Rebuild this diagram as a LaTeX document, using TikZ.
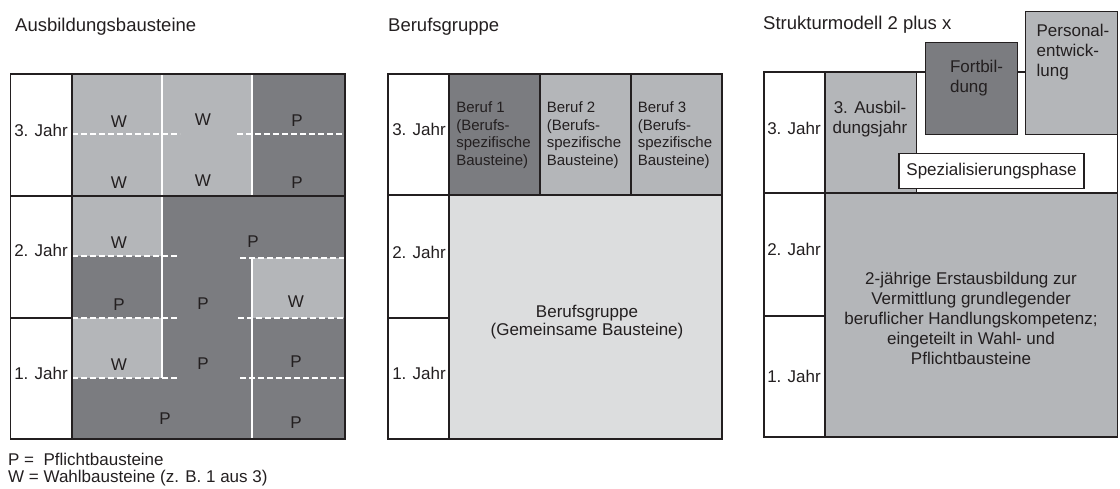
\documentclass[tikz,border=0pt]{standalone}
\usepackage{fontspec}
\setmainfont{Liberation Sans}
\usetikzlibrary{positioning}

\definecolor{pgray}{RGB}{123,124,128}
\definecolor{wgray}{RGB}{180,182,185}
\definecolor{ggray}{RGB}{220,221,222}
\definecolor{ink}{RGB}{35,31,32}

\begin{document}
\begin{tikzpicture}[x=1pt, y=-1pt,
    txt/.style={inner sep=0pt, text=ink, font=\fontsize{17}{20}\selectfont},
    title/.style={txt, anchor=base west, font=\fontsize{18.5}{22}\selectfont},
    jahr/.style={txt, anchor=east},
    bst/.style={txt},
    boxtxt/.style={txt, align=left, font=\fontsize{15}{17.5}\selectfont},
    frame/.style={draw=ink, line width=1.5pt},
    sep/.style={draw=white, line width=1.5pt},
    gap/.style={sep, dash pattern=on 6pt off 3pt}
]
\useasboundingbox (0,0) rectangle (1120,489);

% Ausbildungsbausteine
\node [title] (aus) at (15,31.5) {Ausbildungsbausteine};
\fill [pgray] (72,74) rectangle (345,439);
\fill [wgray] (72,74) rectangle (252,196);
\fill [wgray] (72,196) rectangle (162,256);
\fill [wgray] (252,258) rectangle (345,318);
\fill [wgray] (72,318) rectangle (162,378);
\draw [sep] (162,74) -- (162,378);
\draw [sep] (252,74) -- (252,196) (252,258) -- (252,439);
\draw [gap] (72,134) -- (180,134) (237,134) -- (345,134);
\draw [gap] (72,256) -- (177,256) (240,258) -- (345,258);
\draw [gap] (72,318) -- (178,318) (238,318) -- (345,318);
\draw [gap] (72,378) -- (177,378) (240,378) -- (345,378);
\draw [frame] (10.7,74) rectangle (345,439);
\draw [frame] (72,74) -- (72,439) (10.7,196) -- (345,196) (10.7,318) -- (72,318);
\foreach \x/\y/\t [count=\i] in {119/122/W, 203/120/W, 297/121/P,
    119/183/W, 203/181/W, 297/183/P, 119/243/W, 253/242/P,
    119/305/P, 203/304/P, 296/302/W, 119/365/W, 203/364/P, 296/362/P,
    165/419/P, 296/423/P}
  \node [bst] (b\i) at (\x,\y) {\t};
\foreach \y/\n in {130/3, 250/2, 373/1}
  \node [jahr] (ja\n) at (68,\y) {\n. Jahr};
\node [txt, anchor=base west] (legp) at (8,465.5) {P = \ Pflichtbausteine};
\node [txt, anchor=base west] (legw) at (8,482) {W = Wahlbausteine (z. B. 1 aus 3)};

% Berufsgruppe
\node [title] (grp) at (388,31.5) {Berufsgruppe};
\fill [ggray] (449,195) rectangle (722,439);
\fill [pgray] (449,74) rectangle (540,195);
\fill [wgray] (540,74) rectangle (722,195);
\draw [frame] (388,74) rectangle (722,439);
\draw [frame] (449,74) -- (449,439) (388,195) -- (722,195) (388,318) -- (449,318)
  (540,74) -- (540,195) (631,74) -- (631,195);
\foreach \x/\n in {493.5/1, 584/2, 675/3}
  \node [boxtxt] (beruf\n) at (\x,135) {Beruf \n\\(Berufs-\\spezifische\\Bausteine)};
\node [txt, align=center, font=\fontsize{17}{18}\selectfont] (gem) at (587,322)
  {Berufsgruppe\\(Gemeinsame Bausteine)};
\foreach \y/\n in {129/3, 252/2, 373/1}
  \node [jahr] (jb\n) at (446,\y) {\n. Jahr};

% Strukturmodell 2 plus x
\node [title] (str) at (763,30) {Strukturmodell 2 plus x};
\fill [wgray] (825,193) rectangle (1117.7,437);
\fill [wgray] (825,72) rectangle (916.7,193);
\draw [frame] (764,72) rectangle (825,437);
\draw [frame] (764,193) -- (1117.7,193) (764,316) -- (825,316);
\draw [frame] (825,193) rectangle (1117.7,437);
\draw [frame] (825,72) -- (925.7,72) (916.7,72) -- (916.7,193);
\draw [frame] (1017.7,72) -- (1025.3,72) (1117.7,134.3) -- (1117.7,193);
\draw [frame, fill=pgray] (925.7,42.3) rectangle (1017.7,134.3);
\draw [frame, fill=wgray] (1025.3,11.7) rectangle (1117.7,134.3);
\node [txt, frame, fill=white, minimum width=185pt, minimum height=35pt] (spez)
  at (991.5,170.8) {Spezialisierungsphase};
\node [txt, align=center] (ausb) at (870,119) {3. Ausbil-\\dungsjahr};
\node [txt, align=left] (fort) at (976.5,78) {Fortbil-\\dung};
\node [txt, align=left] (pers) at (1073,52) {Personal-\\entwick-\\lung};
\node [txt, align=center] (erst) at (971,318) {2-jährige Erstausbildung zur\\Vermittlung grundlegender\\beruflicher Handlungskompetenz;\\eingeteilt in Wahl- und\\Pflichtbausteine};
\foreach \y/\n in {128/3, 249/2, 376/1}
  \node [jahr] (jc\n) at (821,\y) {\n. Jahr};

\end{tikzpicture}
\end{document}
